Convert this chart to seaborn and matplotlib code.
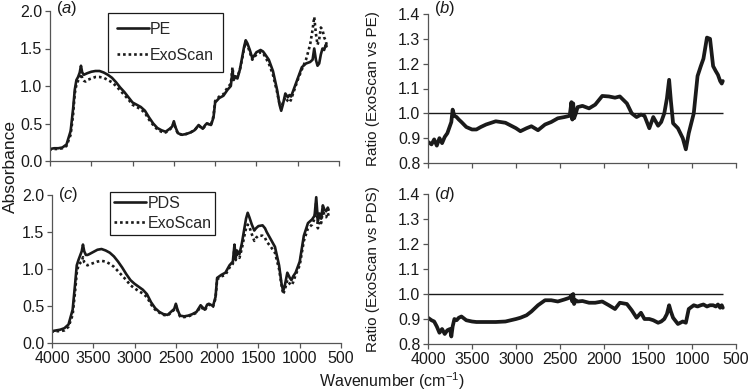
#!/usr/bin/env python3
"""
IR spectra (PE / PDS vs ExoScan) and their ratios, four panels.
"""

import numpy as np
import pandas as pd
import seaborn as sns
import matplotlib.pyplot as plt

# wavenumber grid for the absorbance spectra (cm-1)
wavenumber = [
    4000, 3950, 3900, 3850, 3800, 3750, 3720, 3700, 3680, 3660, 3640, 3625,
    3610, 3590, 3570, 3550, 3500, 3450, 3400, 3350, 3300, 3250, 3200, 3150,
    3100, 3050, 3000, 2950, 2900, 2850, 2800, 2750, 2700, 2650, 2600, 2550,
    2520, 2500, 2480, 2450, 2400, 2350, 2300, 2250, 2200, 2150, 2120, 2100,
    2050, 2020, 2000, 1950, 1900, 1850, 1810, 1790, 1775, 1760, 1730, 1700,
    1670, 1650, 1630, 1610, 1580, 1550, 1530, 1500, 1450, 1420, 1400, 1350,
    1300, 1250, 1220, 1200, 1180, 1150, 1120, 1100, 1080, 1050, 1000, 950,
    900, 850, 820, 800, 780, 760, 740, 720, 700, 680, 660, 650,
]

pe_abs = [
    0.16, 0.17, 0.17, 0.18, 0.22, 0.40, 0.70, 0.95, 1.08, 1.12, 1.18, 1.27,
    1.18, 1.15, 1.16, 1.17, 1.19, 1.20, 1.20, 1.18, 1.15, 1.11, 1.05, 0.98,
    0.92, 0.85, 0.78, 0.75, 0.72, 0.67, 0.58, 0.50, 0.44, 0.41, 0.39, 0.43,
    0.46, 0.53, 0.45, 0.37, 0.35, 0.36, 0.38, 0.41, 0.48, 0.43, 0.48, 0.50,
    0.48, 0.58, 0.78, 0.84, 0.87, 0.95, 1.00, 1.20, 1.08, 1.12, 1.10, 1.22,
    1.40, 1.52, 1.61, 1.57, 1.48, 1.37, 1.40, 1.45, 1.48, 1.46, 1.43, 1.35,
    1.20, 0.95, 0.75, 0.67, 0.75, 0.90, 0.85, 0.88, 0.86, 0.95, 1.10, 1.25,
    1.30, 1.32, 1.35, 1.50, 1.35, 1.27, 1.30, 1.42, 1.50, 1.48, 1.55, 1.53,
]
exo_vs_pe_abs = [
    0.15, 0.16, 0.16, 0.17, 0.20, 0.35, 0.62, 0.90, 1.02, 1.07, 1.11, 1.20,
    1.10, 1.07, 1.06, 1.08, 1.10, 1.12, 1.12, 1.11, 1.08, 1.05, 1.00, 0.94,
    0.88, 0.82, 0.75, 0.72, 0.69, 0.64, 0.55, 0.48, 0.42, 0.39, 0.38, 0.42,
    0.45, 0.51, 0.44, 0.36, 0.35, 0.36, 0.38, 0.41, 0.47, 0.43, 0.47, 0.50,
    0.48, 0.60, 0.80, 0.86, 0.89, 0.98, 1.03, 1.25, 1.10, 1.13, 1.12, 1.22,
    1.38, 1.50, 1.58, 1.55, 1.45, 1.35, 1.38, 1.42, 1.45, 1.44, 1.40, 1.30,
    1.15, 0.92, 0.76, 0.70, 0.78, 0.85, 0.80, 0.78, 0.82, 0.92, 1.08, 1.22,
    1.35, 1.55, 1.75, 1.92, 1.70, 1.55, 1.62, 1.78, 1.75, 1.65, 1.60, 1.55,
]
pds_abs = [
    0.16, 0.17, 0.18, 0.20, 0.25, 0.45, 0.80, 1.05, 1.12, 1.18, 1.24, 1.33,
    1.24, 1.19, 1.19, 1.20, 1.23, 1.26, 1.27, 1.25, 1.22, 1.17, 1.10, 1.02,
    0.93, 0.85, 0.80, 0.76, 0.72, 0.66, 0.55, 0.47, 0.42, 0.39, 0.38, 0.43,
    0.46, 0.53, 0.45, 0.37, 0.36, 0.37, 0.39, 0.42, 0.51, 0.45, 0.52, 0.53,
    0.50, 0.62, 0.88, 0.92, 0.95, 1.05, 1.10, 1.33, 1.15, 1.25, 1.20, 1.35,
    1.55, 1.68, 1.76, 1.70, 1.60, 1.52, 1.55, 1.58, 1.59, 1.55, 1.50, 1.40,
    1.30, 1.05, 0.80, 0.70, 0.78, 0.95, 0.88, 0.85, 0.90, 0.95, 1.10, 1.45,
    1.62, 1.67, 1.72, 1.97, 1.65, 1.75, 1.68, 1.86, 1.80, 1.78, 1.83, 1.80,
]
exo_vs_pds_abs = [
    0.15, 0.16, 0.16, 0.17, 0.22, 0.38, 0.70, 0.95, 1.05, 1.08, 1.10, 1.16,
    1.09, 1.06, 1.05, 1.06, 1.08, 1.10, 1.11, 1.10, 1.07, 1.03, 0.97, 0.91,
    0.85, 0.78, 0.74, 0.70, 0.67, 0.62, 0.52, 0.45, 0.41, 0.38, 0.37, 0.42,
    0.45, 0.51, 0.44, 0.36, 0.35, 0.36, 0.38, 0.41, 0.49, 0.44, 0.50, 0.52,
    0.49, 0.60, 0.86, 0.90, 0.92, 1.02, 1.07, 1.28, 1.12, 1.20, 1.15, 1.28,
    1.45, 1.55, 1.60, 1.57, 1.47, 1.38, 1.42, 1.45, 1.45, 1.42, 1.37, 1.30,
    1.22, 1.00, 0.78, 0.66, 0.72, 0.85, 0.80, 0.78, 0.82, 0.92, 1.05, 1.38,
    1.55, 1.60, 1.68, 1.90, 1.55, 1.65, 1.62, 1.80, 1.72, 1.70, 1.76, 1.72,
]

# wavenumber grid for the ratio traces
ratio_wavenumber = [
    4000, 3960, 3930, 3900, 3870, 3840, 3810, 3780, 3750, 3735,
    3720, 3700, 3675, 3650, 3620, 3565, 3500, 3450, 3400, 3340,
    3230, 3120, 3000, 2950, 2880, 2825, 2750, 2670, 2600, 2525,
    2450, 2390, 2370, 2360, 2350, 2340, 2320, 2300, 2245, 2170,
    2100, 2020, 1945, 1875, 1820, 1740, 1685, 1630, 1580, 1540,
    1485, 1440, 1385, 1350, 1315, 1285, 1260, 1240, 1215, 1160,
    1105, 1070, 1037, 980, 937, 900, 870, 830, 795, 760,
    730, 705, 680, 662, 650,
]
ratio_exo_pe = [
    0.885, 0.875, 0.895, 0.870, 0.900, 0.880, 0.905, 0.920, 0.950, 0.965,
    1.015, 0.990, 0.985, 0.975, 0.965, 0.945, 0.935, 0.935, 0.945, 0.955,
    0.968, 0.962, 0.940, 0.928, 0.940, 0.948, 0.932, 0.955, 0.965, 0.980,
    0.985, 0.990, 1.045, 0.975, 1.040, 0.980, 1.000, 1.025, 1.030, 1.020,
    1.035, 1.070, 1.068, 1.063, 1.068, 1.040, 1.000, 0.985, 0.995, 0.990,
    0.940, 0.985, 0.950, 0.965, 1.000, 1.060, 1.135, 1.050, 0.960, 0.940,
    0.900, 0.855, 0.920, 1.000, 1.150, 1.190, 1.220, 1.305, 1.300, 1.190,
    1.170, 1.155, 1.130, 1.120, 1.130,
]
ratio_exo_pds = [
    0.905, 0.895, 0.890, 0.870, 0.845, 0.860, 0.840, 0.855, 0.860, 0.830,
    0.870, 0.900, 0.895, 0.905, 0.910, 0.895, 0.890, 0.888, 0.888, 0.888,
    0.888, 0.890, 0.900, 0.905, 0.915, 0.930, 0.955, 0.975, 0.975, 0.970,
    0.978, 0.985, 0.995, 0.970, 1.000, 0.960, 0.975, 0.970, 0.972, 0.965,
    0.965, 0.970, 0.955, 0.940, 0.965, 0.960, 0.935, 0.905, 0.925, 0.900,
    0.900, 0.895, 0.885, 0.890, 0.900, 0.920, 0.955, 0.930, 0.905, 0.880,
    0.890, 0.885, 0.940, 0.955, 0.950, 0.955, 0.958, 0.950, 0.955, 0.955,
    0.950, 0.958, 0.945, 0.955, 0.945,
]

abs_ticks = [0.0, 0.5, 1.0, 1.5, 2.0]
ratio_ticks = [0.8, 0.9, 1.0, 1.1, 1.2, 1.3, 1.4]
wn_ticks = [4000, 3500, 3000, 2500, 2000, 1500, 1000, 500]
ref_level = 1.0

INK = '#1a1a1a'
AXIS = '#555555'
FS = 11.5

sns.set_theme(style='ticks')
plt.rcParams['font.family'] = ['Liberation Sans', 'DejaVu Sans']
plt.rcParams['mathtext.fontset'] = 'custom'
plt.rcParams['mathtext.rm'] = 'Liberation Sans'
plt.rcParams['mathtext.it'] = 'Liberation Sans:italic'


def style_axes(ax, yticks, ylim, show_xlabels):
    ax.set_xlim(wn_ticks[0], wn_ticks[-1])
    ax.set_ylim(*ylim)
    ax.set_xticks(wn_ticks)
    ax.set_yticks(yticks)
    ax.set_yticklabels([f'{t:.1f}' for t in yticks])
    if not show_xlabels:
        ax.set_xticklabels([])
    ax.set_xlabel('')
    ax.set_ylabel('')
    sns.despine(ax=ax)
    for side in ('left', 'bottom'):
        ax.spines[side].set_color(AXIS)
        ax.spines[side].set_linewidth(0.9)
    ax.tick_params(direction='out', length=3.5, width=0.9, color=AXIS,
                   labelsize=FS, labelcolor=INK, pad=2)


def panel_label(ax, letter, y):
    ax.text(0.02, y, r'$\mathrm{(}\mathit{' + letter + r'}\mathrm{)}$',
            transform=ax.transAxes, fontsize=12, color=INK, va='center', ha='left')


def spectra_panel(ax, ref_name, ref_vals, exo_vals, leg_anchor, leg_space, leg_pad):
    df = pd.DataFrame({
        'wavenumber': wavenumber * 2,
        'absorbance': ref_vals + exo_vals,
        'sample': [ref_name] * len(wavenumber) + ['ExoScan'] * len(wavenumber),
    })
    sns.lineplot(data=df, x='wavenumber', y='absorbance', hue='sample',
                 style='sample', hue_order=[ref_name, 'ExoScan'],
                 style_order=[ref_name, 'ExoScan'],
                 palette={ref_name: INK, 'ExoScan': INK},
                 dashes={ref_name: '', 'ExoScan': (1, 1.1)},
                 linewidth=1.9, errorbar=None, legend=False, ax=ax)
    leg = ax.legend(ax.lines[:2], [ref_name, 'ExoScan'], loc='upper left',
                    bbox_to_anchor=leg_anchor, borderaxespad=0, fontsize=FS,
                    handlelength=2.0, handletextpad=0.1, labelspacing=leg_space,
                    borderpad=leg_pad, fancybox=False, framealpha=1)
    leg.get_frame().set_edgecolor(INK)
    leg.get_frame().set_linewidth(0.9)


def ratio_panel(ax, vals):
    df = pd.DataFrame({'wavenumber': ratio_wavenumber, 'ratio': vals})
    ax.hlines(ref_level, max(ratio_wavenumber), min(ratio_wavenumber),
              color=INK, linewidth=1.0)
    sns.lineplot(data=df, x='wavenumber', y='ratio', color=INK,
                 linewidth=2.7, errorbar=None, ax=ax)


fig = plt.figure(figsize=(7.5, 3.92), dpi=100)
W, H = 750.0, 392.0
ax_a = fig.add_axes([50 / W, 1 - 161 / H, 289 / W, 150 / H])
ax_c = fig.add_axes([52 / W, 1 - 343 / H, 289 / W, 148 / H])
ax_b = fig.add_axes([428 / W, 1 - 163 / H, 308 / W, 149 / H])
ax_d = fig.add_axes([428 / W, 1 - 344 / H, 308 / W, 150 / H])

spectra_panel(ax_a, 'PE', pe_abs, exo_vs_pe_abs, (0.20, 0.987), 0.7, 0.55)
spectra_panel(ax_c, 'PDS', pds_abs, exo_vs_pds_abs, (0.20, 1.02), 0.3, 0.25)
ratio_panel(ax_b, ratio_exo_pe)
ratio_panel(ax_d, ratio_exo_pds)

style_axes(ax_a, abs_ticks, (0, 2.0), False)
style_axes(ax_c, abs_ticks, (0, 2.0), True)
style_axes(ax_b, ratio_ticks, (0.8, 1.4), False)
style_axes(ax_d, ratio_ticks, (0.8, 1.4), True)

panel_label(ax_a, 'a', 1.015)
panel_label(ax_b, 'b', 1.035)
panel_label(ax_c, 'c', 1.0)
panel_label(ax_d, 'd', 1.0)

ax_b.set_ylabel('Ratio (ExoScan vs PE)', fontsize=11, color=INK)
ax_d.set_ylabel('Ratio (ExoScan vs PDS)', fontsize=11, color=INK)
ax_b.yaxis.set_label_coords(-0.157, 0.5)
ax_d.yaxis.set_label_coords(-0.157, 0.5)

fig.text(10 / W, 1 - 167 / H, 'Absorbance', rotation=90, fontsize=12.5,
         color=INK, ha='center', va='center')
fig.text(392 / W, 1 - 381 / H, 'Wavenumber (cm$^{-1}$)', fontsize=FS,
         color=INK, ha='center', va='center')

fig.savefig('out.png', dpi=100)
